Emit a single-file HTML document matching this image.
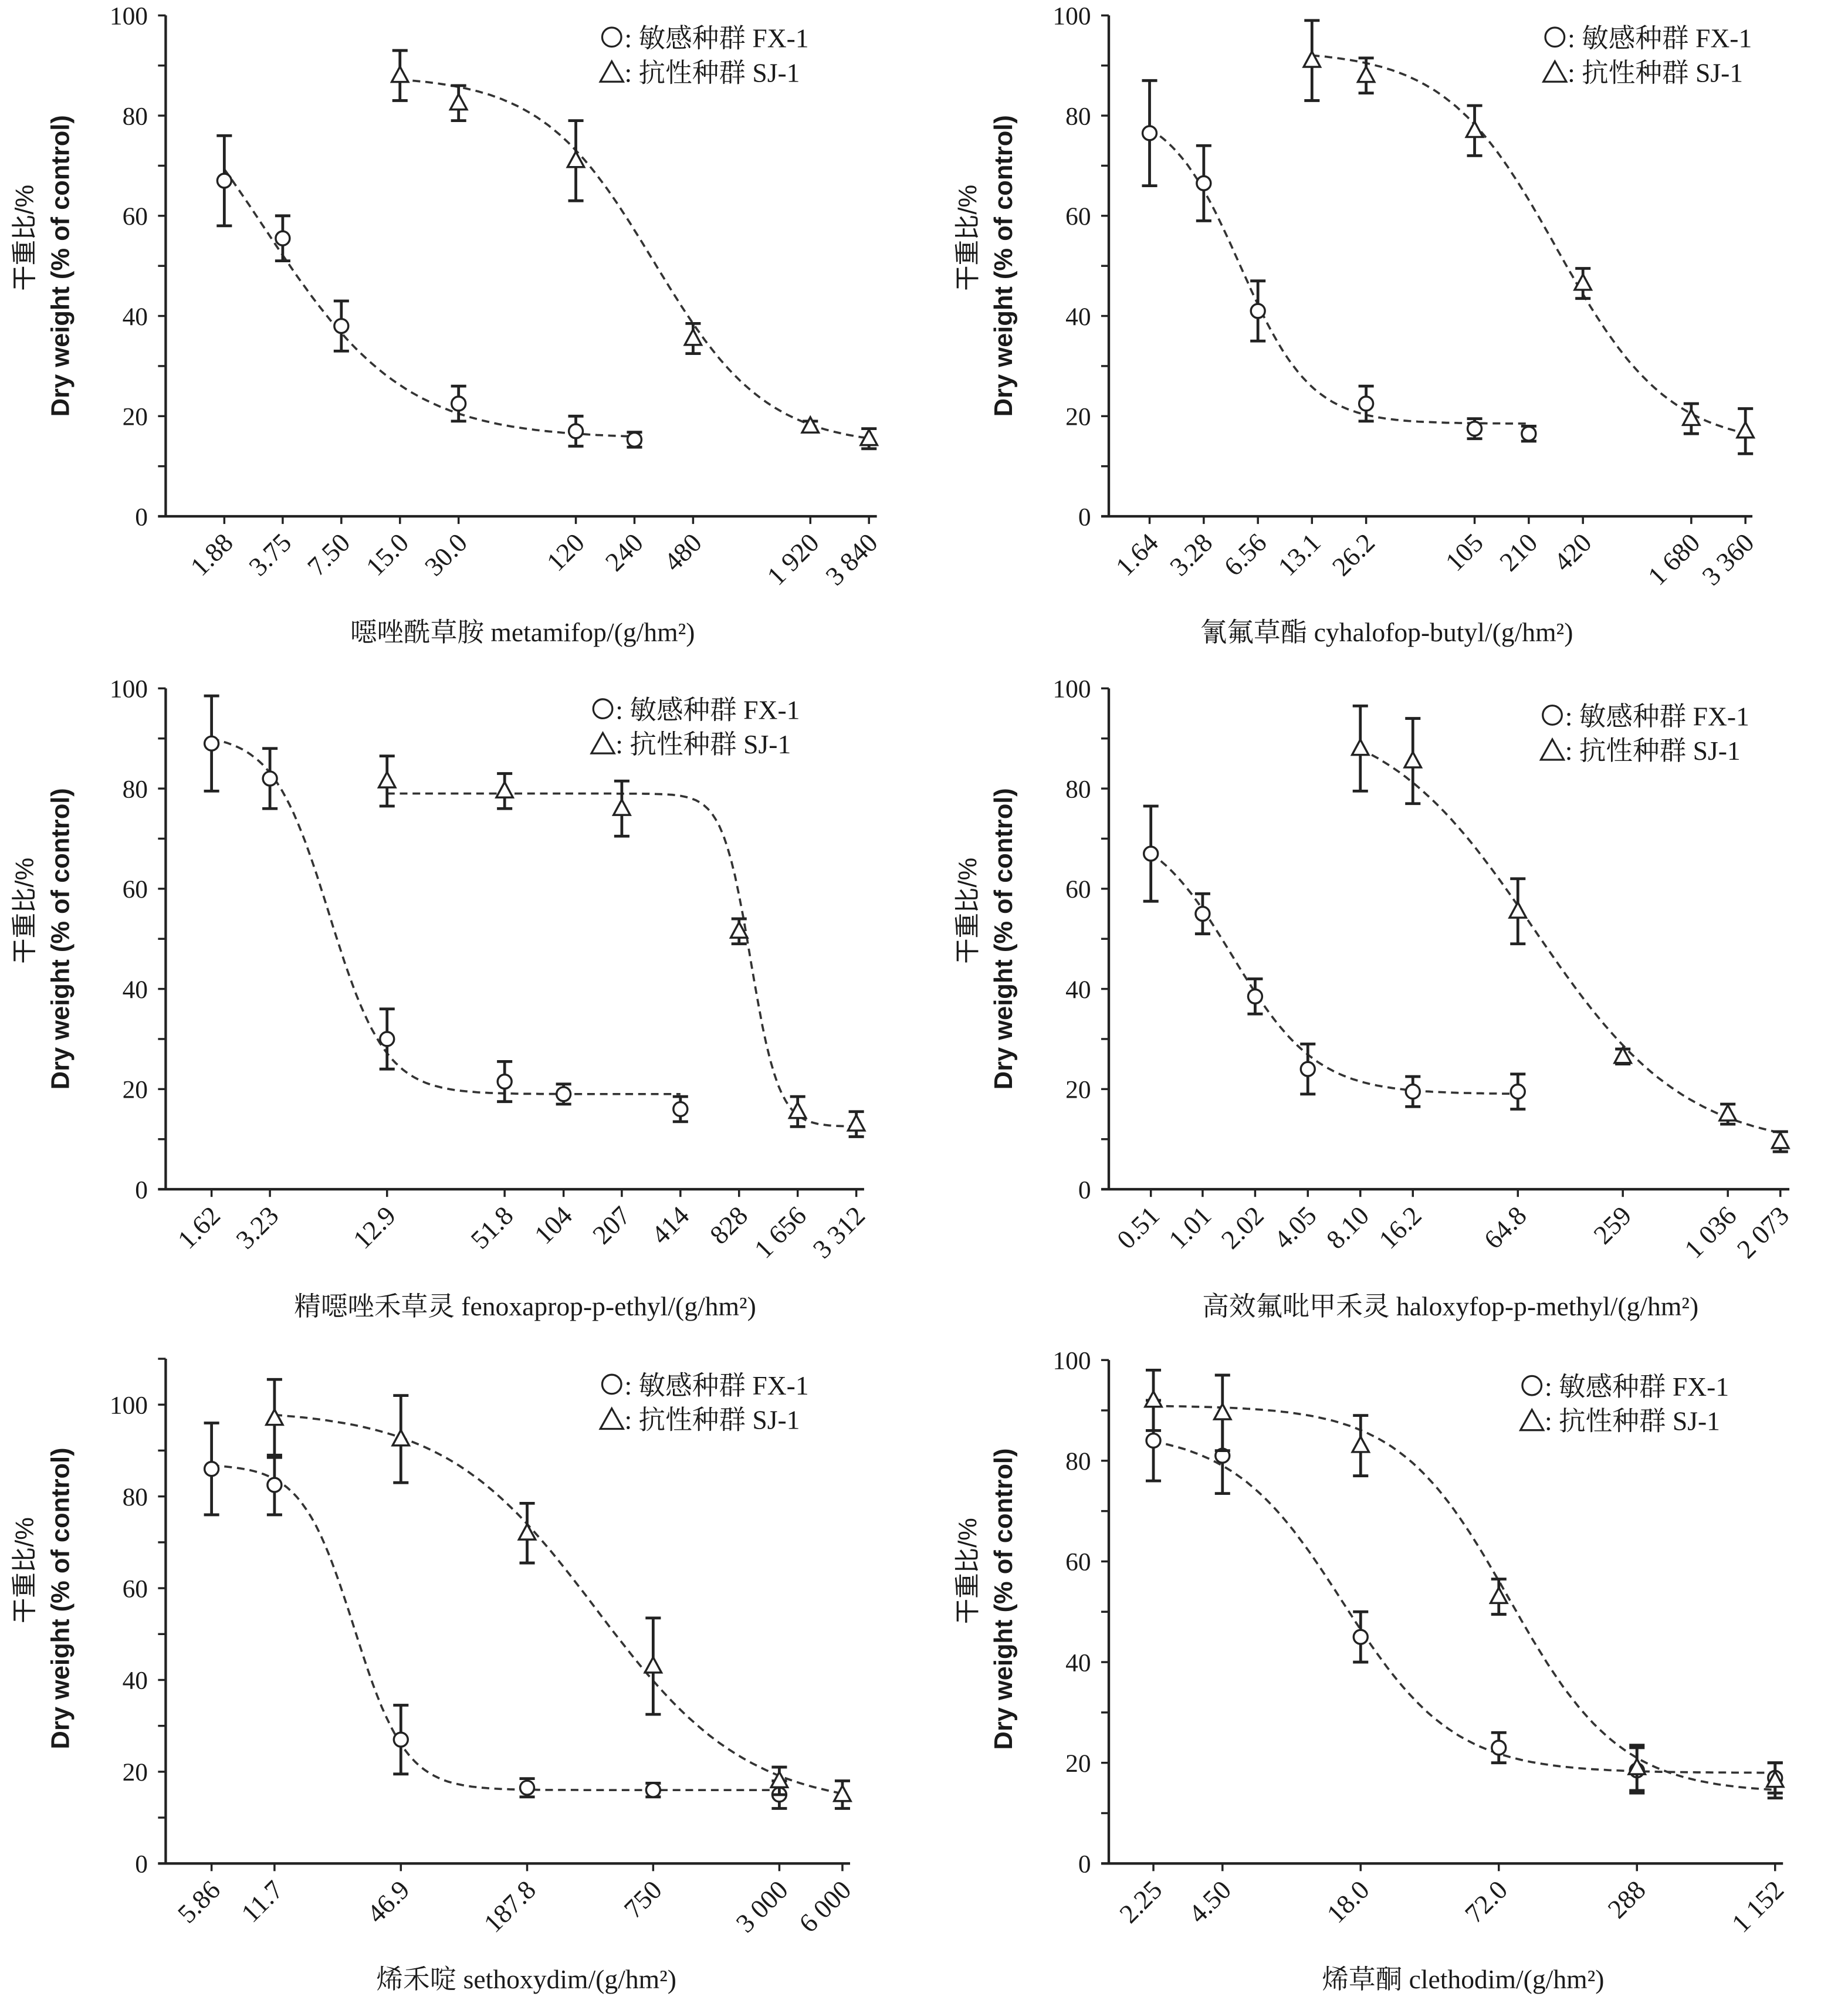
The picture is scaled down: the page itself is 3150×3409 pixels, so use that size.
<!DOCTYPE html>
<html><head><meta charset="utf-8"><style>
html,body{margin:0;padding:0;background:#fff}
svg{display:block}
text{font-family:"Liberation Serif","Noto Serif CJK SC",serif;fill:#1a1a1a}
.ylab{font-family:"Liberation Sans","Noto Sans CJK SC",sans-serif}
</style></head><body>
<svg id="fig" xmlns="http://www.w3.org/2000/svg" width="3150" height="3409" viewBox="0 0 1450 1569"></svg>
<script>
// ---- data: panel titles ----
const titles = ["噁唑酰草胺 metamifop/(g/hm²)","氰氟草酯 cyhalofop-butyl/(g/hm²)","精噁唑禾草灵 fenoxaprop-p-ethyl/(g/hm²)","高效氟吡甲禾灵 haloxyfop-p-methyl/(g/hm²)","烯禾啶 sethoxydim/(g/hm²)","烯草酮 clethodim/(g/hm²)"];
// ---- x tick labels (doses) ----
const doses1 = [1.88,3.75,7.50,15.0,30.0,120,240,480,1920,3840];
const doseLabels1 = ["1.88","3.75","7.50","15.0","30.0","120","240","480","1 920","3 840"];
const doses2 = [1.64,3.28,6.56,13.1,26.2,105,210,420,1680,3360];
const doseLabels2 = ["1.64","3.28","6.56","13.1","26.2","105","210","420","1 680","3 360"];
const doses3 = [1.62,3.23,12.9,51.8,104,207,414,828,1656,3312];
const doseLabels3 = ["1.62","3.23","12.9","51.8","104","207","414","828","1 656","3 312"];
const doses4 = [0.51,1.01,2.02,4.05,8.10,16.2,64.8,259,1036,2073];
const doseLabels4 = ["0.51","1.01","2.02","4.05","8.10","16.2","64.8","259","1 036","2 073"];
const doses5 = [5.86,11.7,46.9,187.8,750,3000,6000];
const doseLabels5 = ["5.86","11.7","46.9","187.8","750","3 000","6 000"];
const doses6 = [2.25,4.50,18.0,72.0,288,1152];
const doseLabels6 = ["2.25","4.50","18.0","72.0","288","1 152"];
// ---- series: FX-1 (sensitive, circles) ----
const fxX1=[1.88,3.75,7.5,30,120,240], fxY1=[67,55.5,38,22.5,17,15.3], fxE1=[9,4.5,5,3.5,3,1.5];
const fxX2=[1.64,3.28,6.56,26.2,105,210], fxY2=[76.5,66.5,41,22.5,17.5,16.5], fxE2=[10.5,7.5,6,3.5,2,1.5];
const fxX3=[1.62,3.23,12.9,51.8,104,414], fxY3=[89,82,30,21.5,19,16], fxE3=[9.5,6,6,4,2,2.5];
const fxX4=[0.51,1.01,2.02,4.05,16.2,64.8], fxY4=[67,55,38.5,24,19.5,19.5], fxE4=[9.5,4,3.5,5,3,3.5];
const fxX5=[5.86,11.7,46.9,187.8,750,3000], fxY5=[86,82.5,27,16.5,16,15], fxE5=[10,6.5,7.5,2,1.5,3];
const fxX6=[2.25,4.5,18,72,288,1152], fxY6=[84,81,45,23,18.5,17], fxE6=[8,7.5,5,3,4.5,3];
// ---- series: SJ-1 (resistant, triangles) ----
const sjX1=[15,30,120,480,1920,3840], sjY1=[88,82.5,71,35.5,18,15.5], sjE1=[5,3.5,8,3,1,2];
const sjX2=[13.1,26.2,105,420,1680,3360], sjY2=[91,88,77,46.5,19.5,17], sjE2=[8,3.5,5,3,3,4.5];
const sjX3=[12.9,51.8,207,828,1656,3312], sjY3=[81.5,79.5,76,51.5,15.5,13], sjE3=[5,3.5,5.5,2.5,3,2.5];
const sjX4=[8.10,16.2,64.8,259,1036,2073], sjY4=[88,85.5,55.5,26.5,15,9.5], sjE4=[8.5,8.5,6.5,1.5,2,2];
const sjX5=[11.7,46.9,187.8,750,3000,6000], sjY5=[97,92.5,72,43,18,15], sjE5=[8.5,9.5,6.5,10.5,3,3];
const sjX6=[2.25,4.5,18,72,288,1152], sjY6=[92,89.5,83,53,19,16.5], sjE6=[6,7.5,6,3.5,4.5,3.5];
// ---- fitted logistic params [C, D, ED50, b] ----
const fxFit=[[15.5,100,3,1.2],[18.5,82,5.2,2.2],[19,91,6.5,3],[19,74,1.5,1.8],[16,87,28,3.5],[18,86,15,1.8]];
const sjFit=[[14,88,300,1.5],[14,93,300,1.4],[12.5,79,950,6],[8,96,80,1],[12,99,400,1.2],[14,91,80,1.8]];

const NS="http://www.w3.org/2000/svg";
const svg=document.getElementById('fig');
function mk(tag,attrs,parent){const e=document.createElementNS(NS,tag);for(const k in attrs)e.setAttribute(k,attrs[k]);(parent||svg).appendChild(e);return e;}

const layout=[
 {ax:130,y0:405,yTop:12,yMax:100,v0:1.88,x0:176,pd:46,xEnd:688,lx:472,ly:30,tx:410,ty:503},
 {ax:870,y0:405,yTop:12,yMax:100,v0:1.64,x0:902,pd:42.5,xEnd:1375,lx:1212,ly:30,tx:1088,ty:503},
 {ax:130,y0:933,yTop:540,yMax:100,v0:1.62,x0:166,pd:46,xEnd:678,lx:465,ly:557,tx:412,ty:1032},
 {ax:870,y0:933,yTop:540,yMax:100,v0:0.51,x0:903,pd:41.2,xEnd:1404,lx:1210,ly:562,tx:1138,ty:1032},
 {ax:130,y0:1462,yTop:1066,yMax:110,v0:5.86,x0:166,pd:49.5,xEnd:667,lx:472,ly:1087,tx:413,ty:1560},
 {ax:870,y0:1462,yTop:1067,yMax:100,v0:2.25,x0:905,pd:54.2,xEnd:1399,lx:1194,ly:1088,tx:1148,ty:1560}
];
const allDoses=[doses1,doses2,doses3,doses4,doses5,doses6];
const allLabels=[doseLabels1,doseLabels2,doseLabels3,doseLabels4,doseLabels5,doseLabels6];
const FX=[[fxX1,fxY1,fxE1],[fxX2,fxY2,fxE2],[fxX3,fxY3,fxE3],[fxX4,fxY4,fxE4],[fxX5,fxY5,fxE5],[fxX6,fxY6,fxE6]];
const SJ=[[sjX1,sjY1,sjE1],[sjX2,sjY2,sjE2],[sjX3,sjY3,sjE3],[sjX4,sjY4,sjE4],[sjX5,sjY5,sjE5],[sjX6,sjY6,sjE6]];
const pxPer20=[78.6,78.6,78.6,78.6,72,79];

function logistic(p,x){return p[0]+(p[1]-p[0])/(1+Math.pow(x/p[2],p[3]));}

layout.forEach((L,i)=>{
  const g=mk('g',{});
  
  
  const sx=v=>L.x0+L.pd*Math.log2(v/L.v0);
  const sy=v=>L.y0-v*pxPer20[i]/20;
  const ya=mk('line',{x1:L.ax,y1:L.yTop,x2:L.ax,y2:L.y0,stroke:'#222','stroke-width':2},g);
  
  
  const xa=mk('line',{x1:L.ax-6,y1:L.y0,x2:L.xEnd,y2:L.y0,stroke:'#222','stroke-width':2},g);
  
  
  for(let v=0;v<=L.yMax;v+=10){
    const y=sy(v);
    mk('line',{x1:L.ax-6,y1:y,x2:L.ax,y2:y,stroke:'#222','stroke-width':1.6},g);
    if(v%20===0){
      const t=mk('text',{x:L.ax-14,y:y+7,'text-anchor':'end','font-size':20},g);
      t.textContent=v;
      
      
    }
  }
  allDoses[i].forEach((d,j)=>{
    const x=sx(d);
    mk('line',{x1:x,y1:L.y0,x2:x,y2:L.y0+6,stroke:'#222','stroke-width':1.6},g);
    const t=mk('text',{x:0,y:0,'text-anchor':'end','font-size':21,transform:`translate(${x+8},${L.y0+22}) rotate(-45)`},g);
    t.textContent=allLabels[i][j];
    
    
  });
  const cy=(L.yTop+L.y0)/2+ (i>=4?-10:0);
  const t1=mk('text',{x:0,y:0,'text-anchor':'middle','font-size':20,class:'ylab',transform:`translate(${L.ax-104},${cy-22}) rotate(-90)`},g);
  t1.textContent='干重比/%';
  
  
  const t2=mk('text',{x:0,y:0,'text-anchor':'middle','font-size':20,'font-weight':'bold',class:'ylab',transform:`translate(${L.ax-76},${cy}) rotate(-90)`},g);
  t2.textContent='Dry weight (% of control)';
  
  
  const xt=mk('text',{x:L.tx,y:L.ty,'text-anchor':'middle','font-size':21},g);
  xt.textContent=titles[i];
  
  
  [[FX[i],fxFit[i]],[SJ[i],sjFit[i]]].forEach(([s,p],k)=>{
    const xs=s[0];const a=Math.log(xs[0]),b=Math.log(xs[xs.length-1]);
    let d='';
    for(let n=0;n<=120;n++){const v=Math.exp(a+(b-a)*n/120);d+=(n?'L':'M')+sx(v).toFixed(1)+','+sy(logistic(p,v)).toFixed(1);}
    const c=mk('path',{d:d,fill:'none',stroke:'#333','stroke-width':1.7,'stroke-dasharray':'6,4'},g);
    
    
    xs.forEach((xv,j)=>{
      const x=sx(xv),y=sy(s[1][j]),e=s[2][j]*pxPer20[i]/20;
      const eb=mk('path',{d:`M${x},${y-e}V${y+e}M${x-6},${y-e}H${x+6}M${x-6},${y+e}H${x+6}`,stroke:'#222','stroke-width':2.2,fill:'none'},g);
      
      
      let m;
      if(k===0){m=mk('circle',{cx:x,cy:y,r:5.5,fill:'#fff',stroke:'#222','stroke-width':1.6},g);}
      else{m=mk('path',{d:`M${x},${y-7}L${x+6.5},${y+5}L${x-6.5},${y+5}Z`,fill:'#fff',stroke:'#222','stroke-width':1.6},g);}
      
      
    });
  });
  const lg=mk('g',{},g);
  
  
  mk('circle',{cx:L.lx+8,cy:L.ly-1,r:7.5,fill:'none',stroke:'#222','stroke-width':1.5},lg);
  const l1=mk('text',{x:L.lx+18,y:L.ly+7,'font-size':21},lg);
  l1.textContent=': 敏感种群 FX-1';
  
  
  mk('path',{d:`M${L.lx+8},${L.ly+18}L${L.lx+17},${L.ly+34}L${L.lx-1},${L.ly+34}Z`,fill:'none',stroke:'#222','stroke-width':1.5},lg);
  const l2=mk('text',{x:L.lx+18,y:L.ly+34,'font-size':21},lg);
  l2.textContent=': 抗性种群 SJ-1';
  
  
});
</script>
</body></html>
